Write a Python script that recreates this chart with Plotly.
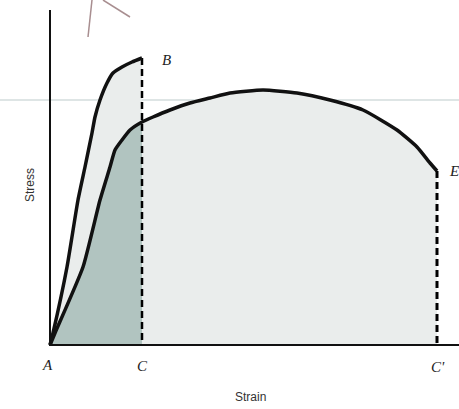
import plotly.graph_objects as go

# strain / stress in arbitrary units (origin at A)
brittle_strain = [0, 3, 17, 28, 35, 42, 45, 50, 57, 63, 72, 82, 92]
brittle_stress = [0, 12, 78, 145, 178, 212, 228, 245, 262, 272, 278, 283, 287]

ductile_strain = [0, 5, 33, 50, 60, 65, 72, 80, 92, 103, 120, 140, 160, 180, 213, 247, 280, 313, 347, 367, 380, 387]
ductile_stress = [0, 12, 78, 145, 178, 195, 205, 215, 223, 228, 235, 242, 247, 252, 255, 252, 245, 235, 215, 198, 182, 174]

strain_C = 92        # fracture strain of brittle material
strain_C2 = 387      # fracture strain of ductile material

point_labels = ["A", "B", "C", "E", "C'"]
point_x = [-3, 110, 92, 397, 388]
point_y = [-20, 285, -21, 174, -22]

LIGHT = "#eaedec"
DARK = "#b1c4c0"

fig = go.Figure()

# light area under brittle curve
fig.add_trace(go.Scatter(x=brittle_strain + [strain_C, 0], y=brittle_stress + [0, 0],
                         fill="toself", fillcolor=LIGHT, line=dict(width=0), mode="lines", hoverinfo="skip"))

# split ductile curve at C
n_c = ductile_strain.index(strain_C) + 1
left_x, left_y = ductile_strain[:n_c], ductile_stress[:n_c]
right_x, right_y = ductile_strain[n_c - 1:], ductile_stress[n_c - 1:]

fig.add_trace(go.Scatter(x=left_x + [strain_C, 0], y=left_y + [0, 0],
                         fill="toself", fillcolor=DARK, line=dict(width=0), mode="lines", hoverinfo="skip"))
fig.add_trace(go.Scatter(x=right_x + [strain_C2, strain_C], y=right_y + [0, 0],
                         fill="toself", fillcolor=LIGHT, line=dict(width=0), mode="lines", hoverinfo="skip"))

# faint scan rule
fig.add_shape(type="line", x0=-50, x1=409, y0=245, y1=245, layer="below", line=dict(color="#d3dcdc", width=1.5))

# dashed drops at fracture
fig.add_trace(go.Scatter(x=[strain_C, strain_C], y=[brittle_stress[-1], 0], mode="lines",
                         line=dict(color="black", width=2.5, dash="7px,4px")))
fig.add_trace(go.Scatter(x=[strain_C2, strain_C2], y=[ductile_stress[-1], 0], mode="lines",
                         line=dict(color="black", width=3, dash="7px,4px")))

# curves
fig.add_trace(go.Scatter(x=brittle_strain, y=brittle_stress, mode="lines",
                         line=dict(color="#111", width=3.5, shape="spline", smoothing=0.5)))
fig.add_trace(go.Scatter(x=ductile_strain, y=ductile_stress, mode="lines",
                         line=dict(color="#111", width=3.5, shape="spline", smoothing=0.5)))

# axes
fig.add_trace(go.Scatter(x=[0, 0, 409], y=[335, 0, 0], mode="lines", line=dict(color="#111", width=2)))

# pen marks on the scan
fig.add_shape(type="line", x0=38, x1=42, y0=308, y1=345, line=dict(color="#a88e90", width=1.5))
fig.add_shape(type="line", x0=53, x1=80, y0=345, y1=328, line=dict(color="#a88e90", width=1.5))

for t, x, y in zip(point_labels, point_x, point_y):
    fig.add_annotation(x=x, y=y, text=f"<i>{t}</i>", showarrow=False, xanchor="left" if t in ("B", "E") else "center",
                       font=dict(family="Liberation Serif", size=15, color="#222"))

fig.add_annotation(x=200, y=-52, text="Strain", showarrow=False,
                   font=dict(family="Liberation Sans", size=12, color="#333"))
fig.add_annotation(x=-20, y=160, text="Stress", showarrow=False, textangle=-90,
                   font=dict(family="Liberation Sans", size=12, color="#333"))

fig.update_layout(width=459, height=409, autosize=False, margin=dict(l=0, r=0, t=0, b=0),
                  showlegend=False, plot_bgcolor="white", paper_bgcolor="white",
                  xaxis=dict(range=[-50, 409], visible=False, fixedrange=True),
                  yaxis=dict(range=[-64, 345], visible=False, fixedrange=True))

# drop the default 8px page margin so the figure fills the window exactly
fig.write_html("out.html", config={"displayModeBar": False},
               post_script="document.body.style.margin='0';document.body.style.overflow='hidden';")
